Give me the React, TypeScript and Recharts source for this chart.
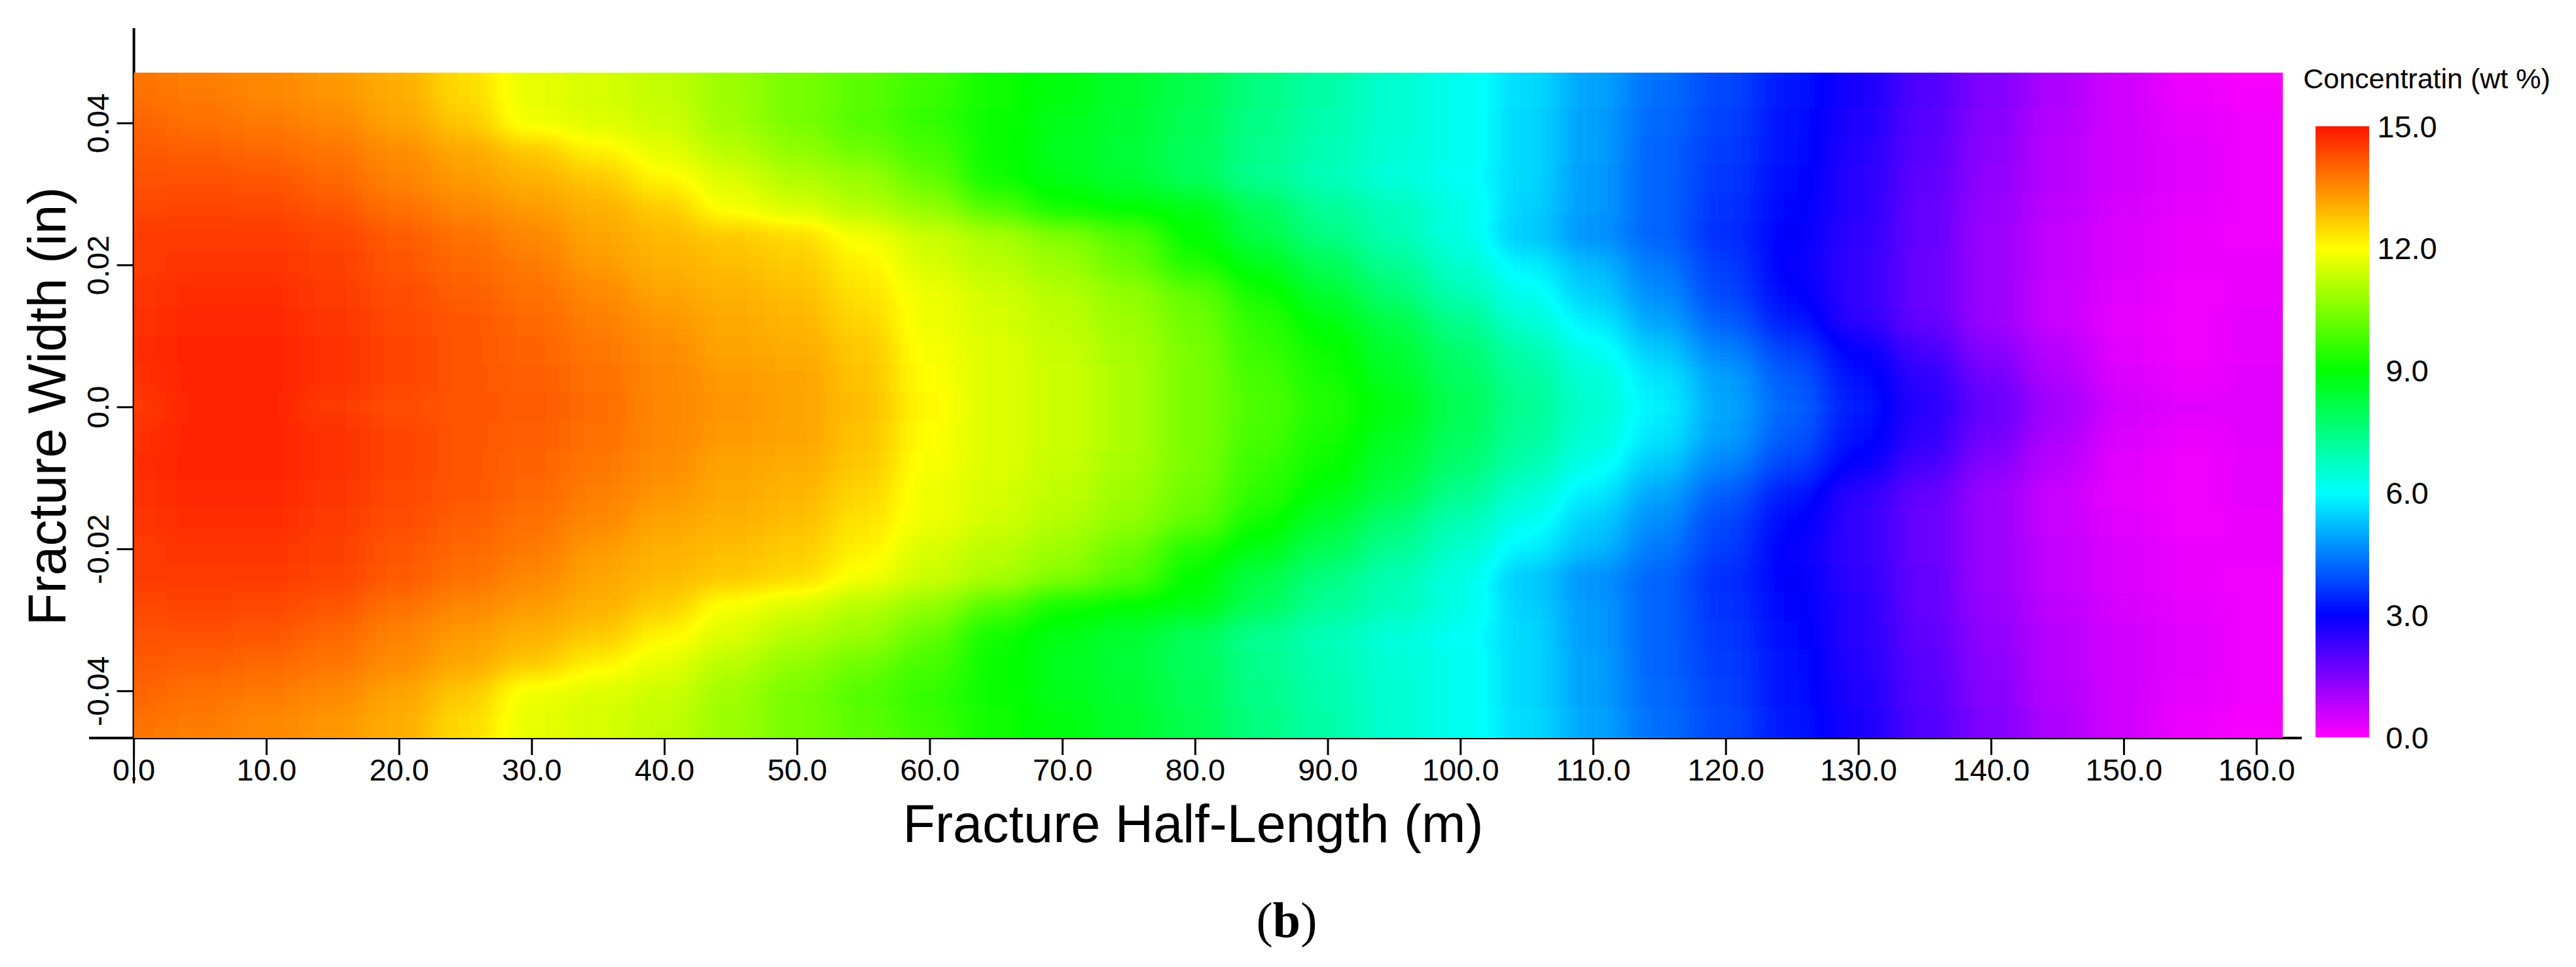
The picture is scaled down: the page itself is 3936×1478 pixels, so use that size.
import React from "react";
import {
  ScatterChart,
  Scatter,
  XAxis,
  YAxis,
  ReferenceLine,
  BarChart,
  Bar,
} from "recharts";

const FONT = "'Liberation Sans', Arial, sans-serif";

const halfLength = [
  0, 5, 10, 15, 20, 25, 30, 35, 40, 45, 50, 55, 60, 65, 70, 75, 80, 85, 90, 95,
  100, 105, 110, 115, 120, 125, 130, 135, 140, 145, 150, 155, 160, 165,
];

// Concentration, one row per fracture width (the plot is mirrored about 0)
const w048 = [13.7, 13.6, 13.5, 13.3, 13.0, 12.4, 11.7, 11.5, 11.25, 10.8, 10.4, 10.1, 9.75, 9.2, 8.85, 8.5, 8.1, 7.5, 7.05, 6.6, 6.25, 5.6, 4.95, 4.35, 3.85, 3.3, 2.7, 2.05, 1.45, 0.95, 0.6, 0.2, 0.0, 0.0];
const w044 = [13.85, 13.7, 13.55, 13.35, 13.05, 12.45, 11.75, 11.55, 11.3, 10.85, 10.4, 10.05, 9.65, 9.15, 8.8, 8.45, 8.05, 7.45, 7.0, 6.55, 6.2, 5.6, 4.95, 4.3, 3.8, 3.25, 2.7, 2.05, 1.45, 0.95, 0.55, 0.25, 0.1, 0.1];
const w040 = [14.0, 13.85, 13.7, 13.5, 13.2, 12.7, 11.85, 11.6, 11.4, 10.9, 10.4, 10.0, 9.6, 9.1, 8.7, 8.4, 8.0, 7.4, 6.95, 6.5, 6.15, 5.55, 4.9, 4.25, 3.75, 3.2, 2.65, 2.0, 1.4, 0.9, 0.55, 0.3, 0.15, 0.15];
const w036 = [14.1, 14.05, 13.95, 13.75, 13.45, 13.1, 12.7, 12.15, 11.7, 11.15, 10.7, 10.3, 9.8, 9.1, 8.65, 8.35, 7.95, 7.35, 6.9, 6.45, 6.15, 5.55, 4.9, 4.2, 3.7, 3.15, 2.6, 1.95, 1.35, 0.85, 0.5, 0.35, 0.2, 0.2];
const w032 = [14.25, 14.25, 14.15, 13.95, 13.6, 13.3, 13.0, 12.7, 12.1, 11.6, 11.1, 10.8, 10.2, 9.2, 8.75, 8.4, 7.95, 7.3, 6.85, 6.4, 6.1, 5.5, 4.85, 4.2, 3.65, 3.1, 2.55, 1.9, 1.3, 0.8, 0.5, 0.35, 0.2, 0.2];
const w028 = [14.35, 14.4, 14.35, 14.15, 13.85, 13.55, 13.3, 13.0, 12.65, 11.9, 11.5, 11.1, 10.7, 9.95, 9.2, 8.95, 8.75, 7.95, 7.25, 6.8, 6.3, 5.45, 4.8, 4.2, 3.6, 3.05, 2.5, 1.85, 1.25, 0.75, 0.45, 0.3, 0.2, 0.2];
const w024 = [14.5, 14.55, 14.55, 14.4, 14.1, 13.8, 13.5, 13.15, 12.9, 12.7, 12.45, 11.9, 11.4, 11.0, 10.55, 10.0, 9.0, 8.2, 7.45, 6.9, 6.3, 5.35, 4.7, 4.15, 3.55, 3.0, 2.45, 1.8, 1.2, 0.7, 0.4, 0.25, 0.2, 0.2];
const w020 = [14.55, 14.6, 14.6, 14.45, 14.2, 13.95, 13.7, 13.3, 13.0, 12.85, 12.65, 12.2, 11.55, 11.2, 10.85, 10.25, 9.35, 8.7, 8.0, 7.3, 6.6, 5.85, 5.15, 4.4, 3.7, 2.95, 2.4, 1.75, 1.15, 0.7, 0.4, 0.25, 0.25, 0.25];
const w016 = [14.6, 14.7, 14.7, 14.55, 14.3, 14.05, 13.85, 13.5, 13.2, 13.0, 12.8, 12.35, 11.8, 11.45, 11.1, 10.7, 10.1, 9.15, 8.4, 7.65, 6.9, 6.15, 5.4, 4.65, 3.85, 3.05, 2.4, 1.75, 1.15, 0.65, 0.35, 0.2, 0.25, 0.25];
const w012 = [14.65, 14.75, 14.75, 14.6, 14.35, 14.15, 13.95, 13.65, 13.35, 13.1, 12.95, 12.55, 11.85, 11.55, 11.25, 10.85, 10.3, 9.5, 8.85, 8.15, 7.35, 6.55, 5.75, 4.95, 4.1, 3.3, 2.45, 1.8, 1.2, 0.65, 0.3, 0.15, 0.3, 0.3];
const w008 = [14.7, 14.8, 14.8, 14.65, 14.4, 14.2, 14.0, 13.75, 13.45, 13.2, 13.05, 12.7, 11.95, 11.6, 11.35, 10.95, 10.4, 9.65, 9.1, 8.4, 7.7, 6.95, 6.2, 5.35, 4.55, 3.75, 2.95, 2.15, 1.4, 0.8, 0.35, 0.15, 0.3, 0.3];
const w004 = [14.65, 14.85, 14.85, 14.65, 14.4, 14.2, 14.05, 13.8, 13.5, 13.3, 13.15, 12.75, 12.0, 11.6, 11.4, 11.0, 10.4, 9.8, 9.25, 8.6, 7.9, 7.2, 6.45, 5.7, 4.9, 4.05, 3.2, 2.45, 1.65, 0.95, 0.4, 0.25, 0.35, 0.35];
const w000 = [14.5, 14.8, 14.8, 14.5, 14.3, 14.2, 14.1, 13.9, 13.5, 13.35, 13.2, 12.8, 12.05, 11.6, 11.4, 11.0, 10.4, 9.9, 9.4, 8.85, 8.05, 7.3, 6.5, 5.8, 4.95, 4.15, 3.3, 2.55, 1.8, 1.1, 0.5, 0.35, 0.35, 0.35];

const widthRows = [
  { w: 0.048, values: w048 },
  { w: 0.044, values: w044 },
  { w: 0.04, values: w040 },
  { w: 0.036, values: w036 },
  { w: 0.032, values: w032 },
  { w: 0.028, values: w028 },
  { w: 0.024, values: w024 },
  { w: 0.02, values: w020 },
  { w: 0.016, values: w016 },
  { w: 0.012, values: w012 },
  { w: 0.008, values: w008 },
  { w: 0.004, values: w004 },
  { w: 0, values: w000 },
];

const xTicks = [0, 10, 20, 30, 40, 50, 60, 70, 80, 90, 100, 110, 120, 130, 140, 150, 160];
const yTicks = [-0.04, -0.02, 0, 0.02, 0.04];
const legendTicks = [0, 3, 6, 9, 12, 15];

// colour ramp stops at 0, 3, 6, 9, 12, 15 wt %
const rampR = [1, 0, 0, 0, 1, 1];
const rampG = [0, 0, 1, 1, 1, 0.086];
const rampB = [1, 1, 1, 0, 0, 0];
const rampCss = legendTicks.map(
  (_, i) =>
    `rgb(${Math.round(rampR[i] * 255)},${Math.round(rampG[i] * 255)},${Math.round(rampB[i] * 255)})`,
);

// Cells are painted in grey (value / 15); the filter smooths the grey and then maps it through the ramp
function greyFor(value: number) {
  const g = Math.round((value / 15) * 255);
  return `rgb(${g},${g},${g})`;
}

const cells = widthRows.flatMap((row) => {
  const sides = row.w === 0 ? [0] : [row.w, -row.w];
  return sides.flatMap((y) =>
    row.values.map((value, i) => ({ x: halfLength[i], y, value })),
  );
});

const PX_PER_M = 20.27;
const PX_PER_W = 10850;
const CELL_W = 5 * PX_PER_M;
const CELL_H = 0.004 * PX_PER_W;
const BLEED = 140;

function HeatCell(props: any) {
  const { cx, cy, payload } = props;
  let x = cx - CELL_W / 2 - 1;
  let y = cy - CELL_H / 2 - 1;
  let w = CELL_W + 2;
  let h = CELL_H + 2;
  if (payload.x === 0) {
    x -= BLEED;
    w += BLEED;
  }
  if (payload.x === 165) w += BLEED;
  if (payload.y === 0.048) {
    y -= BLEED;
    h += BLEED;
  }
  if (payload.y === -0.048) h += BLEED;
  return <rect x={x} y={y} width={w} height={h} fill={greyFor(payload.value)} />;
}

function WidthTick(props: any) {
  const { x, y, payload } = props;
  const label = payload.value === 0 ? "0.0" : payload.value.toFixed(2);
  return (
    <text
      x={x}
      y={y}
      transform={`rotate(-90 ${x} ${y})`}
      textAnchor="middle"
      dy="0.35em"
      fontFamily={FONT}
      fontSize={47}
      fill="#000"
    >
      {label}
    </text>
  );
}

const axisLine = { stroke: "#000", strokeWidth: 4 };
const tickLine = { stroke: "#000", strokeWidth: 3 };

export default function App() {
  return (
    <div style={{ position: "absolute", left: 0, top: 0, width: 3936, height: 1478, background: "#fff" }}>
      <style>{`.heat-layer { filter: url(#heatBlur); clip-path: url(#heatClip); }`}</style>
      <ScatterChart
        width={3936}
        height={1478}
        margin={{ top: 43, right: 419, bottom: 0, left: 0 }}
      >
        <defs>
          <filter
            id="heatBlur"
            filterUnits="userSpaceOnUse"
            x={0}
            y={0}
            width={3936}
            height={1478}
            colorInterpolationFilters="sRGB"
          >
            <feGaussianBlur stdDeviation="26 17" />
            <feComponentTransfer>
              <feFuncR type="table" tableValues={rampR.join(" ")} />
              <feFuncG type="table" tableValues={rampG.join(" ")} />
              <feFuncB type="table" tableValues={rampB.join(" ")} />
            </feComponentTransfer>
          </filter>
          <clipPath id="heatClip">
            <rect x={204.6} y={111} width={3283.4} height={1017} />
          </clipPath>
        </defs>
        <Scatter
          className="heat-layer"
          data={cells}
          dataKey="value"
          shape={HeatCell}
          isAnimationActive={false}
        />
        <XAxis
          type="number"
          dataKey="x"
          domain={[0, 163.4]}
          allowDataOverflow
          ticks={xTicks}
          interval={0}
          tickFormatter={(v: number) => v.toFixed(1)}
          height={350}
          tickSize={26}
          tickMargin={6}
          axisLine={axisLine}
          tickLine={tickLine}
          tick={{ fontFamily: FONT, fontSize: 47, fill: "#000" }}
        />
        <YAxis
          type="number"
          dataKey="y"
          domain={[-0.0466, 0.0534]}
          allowDataOverflow
          ticks={yTicks}
          interval={0}
          width={204.6}
          tickSize={26}
          tickMargin={29}
          axisLine={axisLine}
          tickLine={tickLine}
          tick={WidthTick}
        />
        {/* the x axis runs a little left of the y axis, and the 0.0 tick runs down through its label */}
        <ReferenceLine
          segment={[
            { x: -3.38, y: -0.0466 },
            { x: 0, y: -0.0466 },
          ]}
          ifOverflow="visible"
          stroke="#000"
          strokeWidth={4}
        />
        <ReferenceLine
          segment={[
            { x: 0, y: -0.0466 },
            { x: 0, y: -0.053 },
          ]}
          ifOverflow="visible"
          stroke="#000"
          strokeWidth={3}
        />
        <text x={1823} y={1287} textAnchor="middle" fontFamily={FONT} fontSize={81} fill="#000">
          Fracture Half-Length (m)
        </text>
        <text
          transform="translate(100 621) rotate(-90)"
          textAnchor="middle"
          fontFamily={FONT}
          fontSize={81}
          fill="#000"
        >
          Fracture Width (in)
        </text>
        <text x={3708} y={135} textAnchor="middle" fontFamily={FONT} fontSize={43} fill="#000">
          Concentratin (wt %)
        </text>
        <text
          x={1966}
          y={1432}
          textAnchor="middle"
          fontFamily="'Liberation Serif', serif"
          fontSize={76}
          fill="#000"
        >
          (<tspan fontWeight="bold">b</tspan>)
        </text>
      </ScatterChart>

      <div style={{ position: "absolute", left: 3538, top: 150 }}>
        <BarChart
          width={240}
          height={1030}
          data={[{ name: "scale", top: 15 }]}
          margin={{ top: 43, right: 0, bottom: 53, left: 0 }}
          barCategoryGap={0}
        >
          <defs>
            <linearGradient id="concentrationRamp" x1="0" y1="1" x2="0" y2="0">
              {legendTicks.map((v, i) => (
                <stop key={v} offset={v / 15} stopColor={rampCss[i]} />
              ))}
            </linearGradient>
          </defs>
          <XAxis dataKey="name" hide />
          <YAxis
            orientation="right"
            type="number"
            domain={[0, 15]}
            ticks={legendTicks}
            interval={0}
            width={158}
            axisLine={false}
            tickLine={false}
            tickSize={0}
            tickMargin={58}
            tickFormatter={(v: number) => v.toFixed(1)}
            tick={{ fontFamily: FONT, fontSize: 47, fill: "#000", textAnchor: "middle" }}
          />
          <Bar dataKey="top" fill="url(#concentrationRamp)" isAnimationActive={false} />
        </BarChart>
      </div>
    </div>
  );
}
